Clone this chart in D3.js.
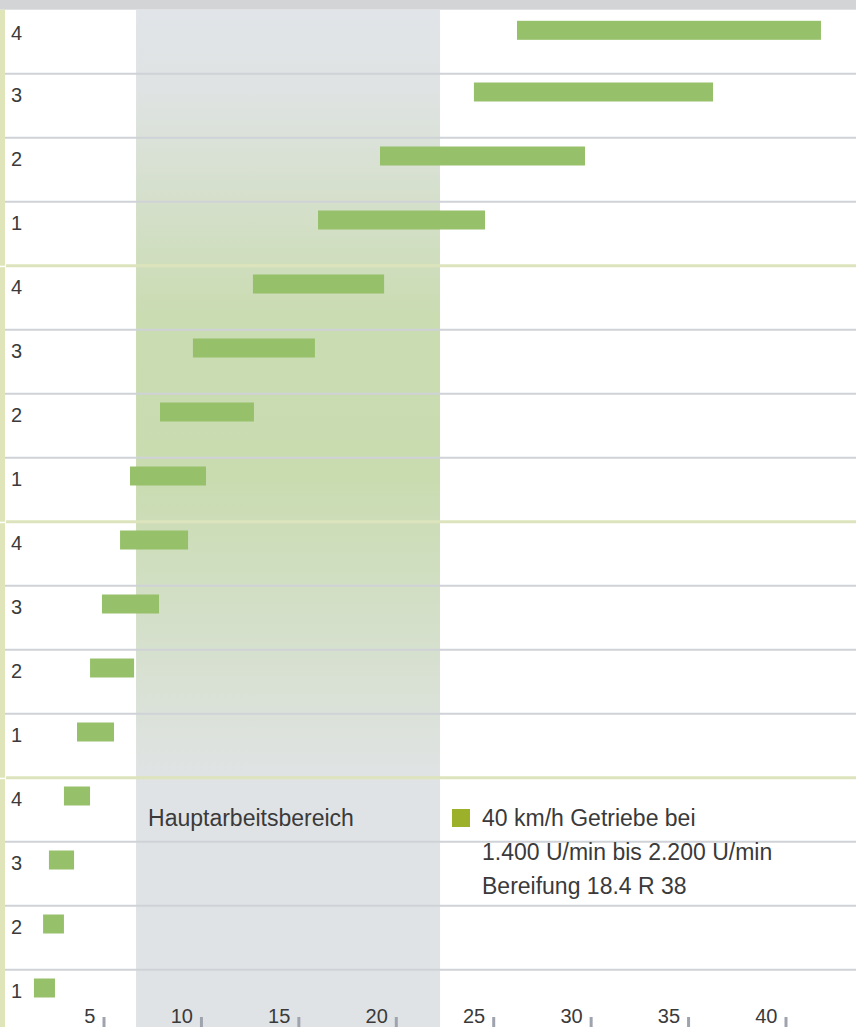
<!DOCTYPE html>
<html>
<head>
<meta charset="utf-8">
<script src="https://cdn.jsdelivr.net/npm/d3@7"></script>
<style>
  body { margin: 0; background: #fff; }
  svg text { font-family: "Liberation Sans", Helvetica, Arial, sans-serif; fill: #3a3a3a; }
</style>
</head>
<body>
<div id="chart"></div>
<script>
// gear labels, top row first (4 groups of 4 gears)
var rowLabels = ["4", "3", "2", "1", "4", "3", "2", "1", "4", "3", "2", "1", "4", "3", "2", "1"];
// speed range in km/h for each row, 1.400 to 2.200 U/min
var speedFrom = [26.22, 24.01, 19.19, 16.01, 12.67, 9.59, 7.90, 6.36, 5.85, 4.92, 4.31, 3.64, 2.97, 2.20, 1.90, 1.43];
var speedTo = [41.82, 36.28, 29.71, 24.58, 19.40, 15.85, 12.72, 10.26, 9.34, 7.85, 6.57, 5.54, 4.31, 3.49, 2.97, 2.51];
var workRange = [6.67, 22.27];
var workLabel = "Hauptarbeitsbereich";
var xTicks = [5, 10, 15, 20, 25, 30, 35, 40];
var legendLines = ["40 km/h Getriebe bei", "1.400 U/min bis 2.200 U/min", "Bereifung 18.4 R 38"];
var groupSize = 4;

var width = 856, height = 1027;
var rowTop = 9.7, rowH = 64;

var svg = d3.select("#chart").append("svg")
  .attr("width", width)
  .attr("height", height);

var x = d3.scaleLinear().domain([0, 40]).range([6.07, 785.5]);
var y = d3.scaleBand()
  .domain(d3.range(rowLabels.length))
  .range([rowTop, rowTop + rowH * rowLabels.length]);
// top row sits a bit lower under the header bar
function rowY(i) { return y(i) + (i == 0 ? 2.3 : 0); }

// gradient for the main working area
var defs = svg.append("defs");
var grad = defs.append("linearGradient")
  .attr("id", "workGrad")
  .attr("x1", 0).attr("y1", 0).attr("x2", 0).attr("y2", 1);
[[0, "#e1e4e8"], [0.08, "#dfe3e3"], [0.3, "#cadcb2"], [0.46, "#c9dcb0"], [0.76, "#e0e3e5"], [1, "#e0e3e6"]]
  .forEach(function(s) {
    grad.append("stop").attr("offset", s[0]).attr("stop-color", s[1]);
  });

// top bar
svg.append("rect")
  .attr("x", 0).attr("y", 0)
  .attr("width", width).attr("height", rowTop)
  .attr("fill", "#d3d4d6");

// left stripe, one segment per group
var groups = d3.range(rowLabels.length / groupSize);
svg.append("g").selectAll("rect")
  .data(groups)
  .join("rect")
  .attr("x", 0)
  .attr("y", function(g) { return y(g * groupSize) + (g == 0 ? 0 : 1.5); })
  .attr("width", 5)
  .attr("height", function(g) { return rowH * groupSize - (g == 0 ? 0 : 1.5); })
  .attr("fill", "#dfe5b9");

// working area band
svg.append("rect")
  .attr("x", x(workRange[0]))
  .attr("y", rowTop)
  .attr("width", x(workRange[1]) - x(workRange[0]))
  .attr("height", height - rowTop)
  .attr("fill", "url(#workGrad)");

// row separators
svg.append("g").selectAll("line")
  .data(d3.range(1, rowLabels.length))
  .join("line")
  .attr("x1", function(i) { return i % groupSize == 0 ? 6 : 5; })
  .attr("x2", width)
  .attr("y1", function(i) { return y(i); })
  .attr("y2", function(i) { return y(i); })
  .attr("stroke", function(i) { return i % groupSize == 0 ? "#dde4bd" : "#cfd2d6"; })
  .attr("stroke-width", function(i) { return i % groupSize == 0 ? 3 : 2; });

// bars
svg.append("g").selectAll("rect")
  .data(rowLabels)
  .join("rect")
  .attr("x", function(d, i) { return x(speedFrom[i]); })
  .attr("y", function(d, i) { return rowY(i) + 8.8; })
  .attr("width", function(d, i) { return x(speedTo[i]) - x(speedFrom[i]); })
  .attr("height", 19)
  .attr("fill", "#96c06a");

// row labels
svg.append("g").selectAll("text")
  .data(rowLabels)
  .join("text")
  .attr("x", 11)
  .attr("y", function(d, i) { return rowY(i) + 28.3; })
  .style("font-size", "20px")
  .text(function(d) { return d; });

// x axis
var xAxis = d3.axisBottom(x)
  .tickValues(xTicks)
  .tickSize(10)
  .tickFormat(d3.format("d"));
var axis = svg.append("g")
  .attr("transform", "translate(0, 1017)")
  .call(xAxis);
axis.select(".domain").remove();
axis.selectAll(".tick line")
  .attr("stroke", "#9ea3ae")
  .attr("stroke-width", 3);
axis.selectAll(".tick text")
  .attr("x", -8.5)
  .attr("y", 6)
  .attr("dy", 0)
  .attr("text-anchor", "end")
  .style("font-size", "20px")
  .style("font-family", "'Liberation Sans', Helvetica, Arial, sans-serif")
  .attr("fill", "#3a3a3a");

// label of working area
svg.append("text")
  .attr("x", x(workRange[0]) + 12)
  .attr("y", 826)
  .style("font-size", "23px")
  .text(workLabel);

// legend
svg.append("rect")
  .attr("x", 452).attr("y", 809)
  .attr("width", 18).attr("height", 18)
  .attr("fill", "#9cb02a");
svg.append("g").selectAll("text")
  .data(legendLines)
  .join("text")
  .attr("x", 482)
  .attr("y", function(d, i) { return 826 + i * 34; })
  .style("font-size", "23px")
  .text(function(d) { return d; });
</script>
</body>
</html>
